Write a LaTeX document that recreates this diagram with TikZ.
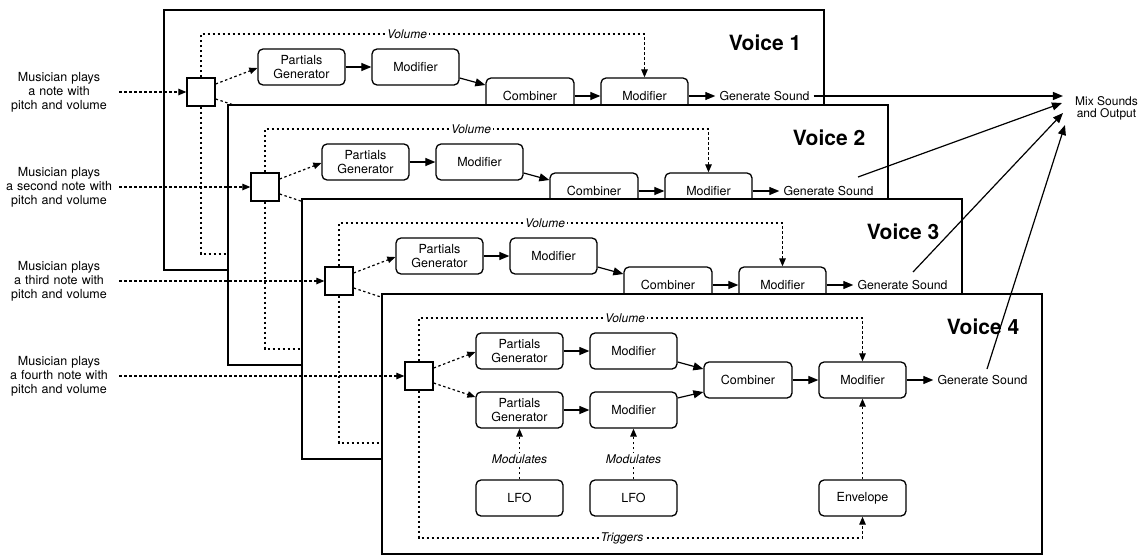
\documentclass[tikz,border=0pt]{standalone}
\usepackage{fontspec}
\setmainfont{TeX Gyre Heros}
\usetikzlibrary{arrows.meta,calc}
\tikzset{
 vframe/.style={draw, line width=2pt, fill=white},
 blk/.style={draw, line width=1.3pt, rounded corners=5pt, fill=white, minimum width=87pt, minimum height=36pt, align=center, inner sep=2pt, font=\fontsize{12.5}{14}\selectfont},
 sqbox/.style={draw, line width=1.3pt, fill=white, minimum size=28pt, inner sep=0pt},
 vlabel/.style={font=\fontsize{21}{23}\selectfont\bfseries, inner sep=0pt},
 ilabel/.style={font=\fontsize{12}{13}\selectfont\itshape, fill=white, inner sep=2pt},
 gstext/.style={font=\fontsize{12.3}{14}\selectfont, inner sep=4pt},
 intext/.style={font=\fontsize{12.5}{14}\selectfont, text width=112pt, align=center, inner sep=4pt},
 solarr/.style={line width=1.2pt, -{Triangle[length=10pt,width=8pt]}},
 dotarr/.style={line width=1.2pt, dash pattern=on 2.5pt off 2.5pt, -{Triangle[length=8pt,width=6.5pt]}},
 dotline/.style={line width=1.2pt, dash pattern=on 2.5pt off 2.5pt},
}
\newcommand\drawvoice[5]{%
 \begin{scope}[shift={(#2,#3)}]
  \draw[vframe] (0,0) rectangle (660,260);
  \node[vlabel] (vl#1) at (601,33) {Voice #1};
  \node[sqbox] (sq#1) at (37,82) {};
  \node[blk] (pga#1) at (137.5,57) {Partials\\Generator};
  \node[blk] (ma#1) at (251.5,57) {Modifier};
  \node[blk, minimum width=88pt] (cb#1) at (366,86) {Combiner};
  \node[blk] (mf#1) at (480.5,86) {Modifier};
  \node[gstext] (gs#1) at (600.5,86) {Generate Sound};
  \coordinate (vt#1) at (480.5,24);
  \coordinate (tb#1) at (480.5,244);
  \coordinate (pgbw#1) at (94,103);
  \draw[dotarr] (sq#1.north) |- (vt#1) -- (mf#1.north);
  \node[ilabel] (vol#1) at (243,24) {Volume};
  \draw[dotarr] ([yshift=8pt]sq#1.east) -- ([yshift=-1pt]pga#1.west);
  \draw[solarr] (pga#1.east) -- (ma#1.west);
  \draw[solarr] ([yshift=-11pt]ma#1.east) -- ([yshift=11pt]cb#1.west);
  \draw[solarr] (cb#1.east) -- (mf#1.west);
  \draw[solarr] (mf#1.east) -- (gs#1.west);
  \ifnum#1=4
   \node[blk] (pgb#1) at (137.5,116) {Partials\\Generator};
   \node[blk] (mb#1) at (251.5,116) {Modifier};
   \node[blk] (lfa#1) at (137.5,204) {LFO};
   \node[blk] (lfb#1) at (251.5,204) {LFO};
   \node[blk] (env#1) at (480.5,204) {Envelope};
   \draw[dotarr] (sq#1.south) |- (tb#1) -- (env#1.south);
   \node[ilabel] (trg#1) at (240,244) {Triggers};
   \draw[dotarr] ([yshift=-7pt]sq#1.east) -- ([yshift=13pt]pgb#1.west);
   \draw[solarr] (pgb#1.east) -- (mb#1.west);
   \draw[solarr] ([yshift=12pt]mb#1.east) -- ([yshift=-12pt]cb#1.west);
   \draw[dotarr] (lfa#1.north) -- (pgb#1.south);
   \draw[dotarr] (lfb#1.north) -- (mb#1.south);
   \node[ilabel] (moda#1) at (137.5,165) {Modulates};
   \node[ilabel] (modb#1) at (251.5,165) {Modulates};
   \draw[dotarr] (env#1.north) -- (mf#1.south);
  \else
   \draw[dotline] (sq#1.south) |- (tb#1);
   \draw[dotline] ([yshift=-7pt]sq#1.east) -- (pgbw#1);
  \fi
 \end{scope}
 \node[intext] (in#1) at (59,#3+82) {#5};
 \draw[dotarr] (in#1.east) -- (sq#1.west);
}
\begin{document}
\begin{tikzpicture}[x=1pt,y=-1pt]
\useasboundingbox (0,0) rectangle (1140,554);
\drawvoice{1}{164}{10}{}{Musician plays\\a note with\\pitch and volume}
\drawvoice{2}{228}{105}{}{Musician plays\\a second note with\\pitch and volume}
\drawvoice{3}{302}{199}{}{Musician plays\\a third note with\\pitch and volume}
\drawvoice{4}{382}{294}{}{Musician plays\\a fourth note with\\pitch and volume}
\node[font=\fontsize{12}{12}\selectfont, align=center, inner sep=3pt] (mix) at (1106.5,108) {Mix Sounds\\and Output};
\coordinate (t1) at ($(mix.west)+(-9,-13)$);
\draw[solarr] (gs1.east) -- (gs1.east -| t1);
\draw[solarr] ($(gs2.center)+(29.5,-14)$) -- ($(mix.west)+(-10,-5)$);
\draw[solarr] ($(gs3.center)+(10.5,-13)$) -- ($(mix.west)+(-9,5)$);
\draw[solarr] ($(gs4.center)+(4.5,-11)$) -- ($(mix.west)+(-7,17)$);
\end{tikzpicture}
\end{document}
